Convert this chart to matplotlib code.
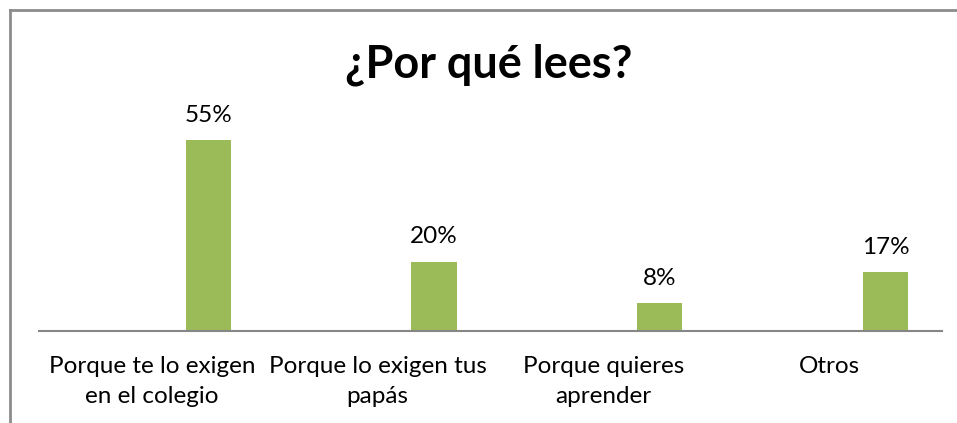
import matplotlib
matplotlib.use("Agg")
import matplotlib.pyplot as plt
from matplotlib.lines import Line2D
from matplotlib.transforms import blended_transform_factory

categories = ["Porque te lo exigen\nen el colegio", "Porque lo exigen tus\npapás", "Porque quieres\naprender", "Otros"]
values = [55, 20, 8, 17]
value_labels = ["55%", "20%", "8%", "17%"]
title = "¿Por qué lees?"

W, H = 957, 423
plt.rcParams['font.family'] = ['Lato', 'DejaVu Sans']
fig = plt.figure(figsize=(W / 100, H / 100), dpi=100)

ax_left, ax_right, ax_bottom = 39, 942, 331
ymax = 60
px_per = 3.473
ax_height = ymax * px_per
ax = fig.add_axes([ax_left / W, (H - ax_bottom) / H, (ax_right - ax_left) / W, ax_height / H])

x = list(range(len(categories)))
xb = [i + 0.25 for i in x]
ax.bar(xb, values, width=0.2, color="#9BBB59", zorder=2)
for xi, v, lab in zip(xb, values, value_labels):
    ax.annotate(lab, (xi, v), xytext=(0, 13), textcoords="offset points",
                ha="center", va="baseline", fontsize=17.5, color="#000000")

ax.set_xlim(-0.5, 3.5)
ax.set_ylim(0, ymax)
ax.set_xticks([])
ax.set_yticks([])
for s in ["top", "right", "left"]:
    ax.spines[s].set_visible(False)
ax.spines["bottom"].set_color("#868686")
ax.spines["bottom"].set_linewidth(1.5)
ax.patch.set_alpha(0)

tr = blended_transform_factory(ax.transData, fig.transFigure)
line_base = [373, 403]
for xi, cat in zip(x, categories):
    for j, line in enumerate(cat.split("\n")):
        ax.text(xi, 1 - line_base[j] / H, line, transform=tr, ha="center", va="baseline",
                fontsize=17.5, color="#000000", clip_on=False)

fig.text(488.5 / W, 1 - 77 / H, title, ha="center", va="baseline", fontsize=32.4, fontweight="bold")

# chart frame (cropped)
fx, fy = 9.5, 10.5
fig.add_artist(Line2D([fx / W, fx / W], [0, 1 - fy / H], transform=fig.transFigure, color="#8c8c8c", lw=2))
fig.add_artist(Line2D([fx / W, 1.01], [1 - fy / H, 1 - fy / H], transform=fig.transFigure, color="#8c8c8c", lw=2))

fig.savefig("out.png", dpi=100, facecolor="white")
